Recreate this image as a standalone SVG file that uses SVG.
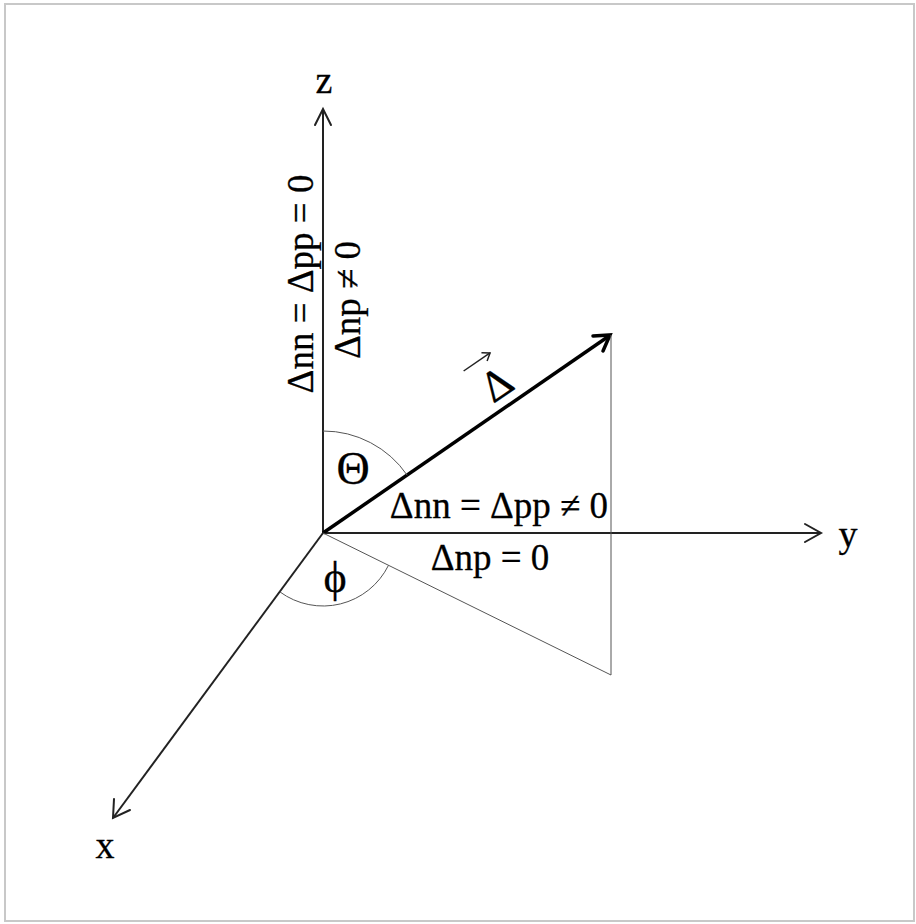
<svg xmlns="http://www.w3.org/2000/svg" width="916" height="924" viewBox="0 0 916 924">
<style>
.t{font-family:"Liberation Serif","Times New Roman",serif;fill:#000;stroke:#000;stroke-width:0.3;}
.lbl{font-size:37px;text-anchor:middle;}
.axis{stroke:#222;stroke-width:2;fill:none;}
.head{stroke:#222;stroke-width:2;fill:none;stroke-linecap:round;stroke-linejoin:miter;}
.thin{stroke:#555;stroke-width:1;fill:none;}
</style>
<rect x="0" y="0" width="916" height="924" fill="#fff"/>
<rect x="5" y="4" width="909" height="917" fill="none" stroke="#c8c8c8" stroke-width="2"/>
<g id="connectors">
  <g id="z-axis"><line class="axis" x1="323" y1="533" x2="323" y2="109"/><polyline class="head" points="315,125 323,109 331,125"/></g>
  <g id="y-axis"><line class="axis" x1="323" y1="533" x2="821" y2="533"/><polyline class="head" points="805,524 821,533 805,542"/></g>
  <g id="x-axis"><line class="axis" x1="323" y1="533" x2="113" y2="818"/><polyline class="head" points="114,799 113,818 130,810"/></g>
  <g id="delta-vector"><line stroke="#000" stroke-width="3.5" x1="323" y1="533" x2="609" y2="336"/><polyline stroke="#000" stroke-width="3.5" fill="none" stroke-linecap="round" points="593,336 610,335 603,351"/></g>
  <line id="vertical-drop" class="thin" stroke="#999" x1="611" y1="335" x2="611" y2="675"/>
  <line id="projection" class="thin" x1="323" y1="533" x2="611" y2="675"/>
  <path id="theta-arc" class="thin" d="M 323 431 A 102 102 0 0 1 407.2 475.2"/>
  <path id="phi-arc" class="thin" d="M 279.9 591.9 A 73 73 0 0 0 388.5 565.3"/>
</g>
<g id="label-z"><text class="t" x="324" y="93" font-size="38" text-anchor="middle">z</text></g>
<g id="label-y"><text class="t" x="848" y="547" font-size="38" text-anchor="middle">y</text></g>
<g id="label-x"><text class="t" x="105" y="858" font-size="38" text-anchor="middle">x</text></g>
<g id="label-theta"><text class="t" x="353" y="484" font-size="46" text-anchor="middle">Θ</text></g>
<g id="label-phi"><text class="t" x="335" y="592" font-size="44" text-anchor="middle">ϕ</text></g>
<g id="label-z-cond1"><text class="t lbl" transform="translate(313,284) rotate(-90)">Δnn = Δpp = 0</text></g>
<g id="label-z-cond2"><text class="t lbl" transform="translate(360,300) rotate(-90)">Δnp ≠ 0</text></g>
<g id="label-y-cond1"><text class="t lbl" x="499" y="518">Δnn = Δpp ≠ 0</text></g>
<g id="label-y-cond2"><text class="t lbl" x="490" y="570">Δnp = 0</text></g>
<g id="label-delta" transform="translate(505,396) rotate(-34.4)">
  <text class="t" x="0" y="0" font-size="44" text-anchor="middle">Δ</text>
  <line x1="-20" y1="-44" x2="12" y2="-44" stroke="#222" stroke-width="1.5"/>
  <polyline points="5,-49 12,-44 5,-39" fill="none" stroke="#222" stroke-width="1.5"/>
</g>
</svg>
